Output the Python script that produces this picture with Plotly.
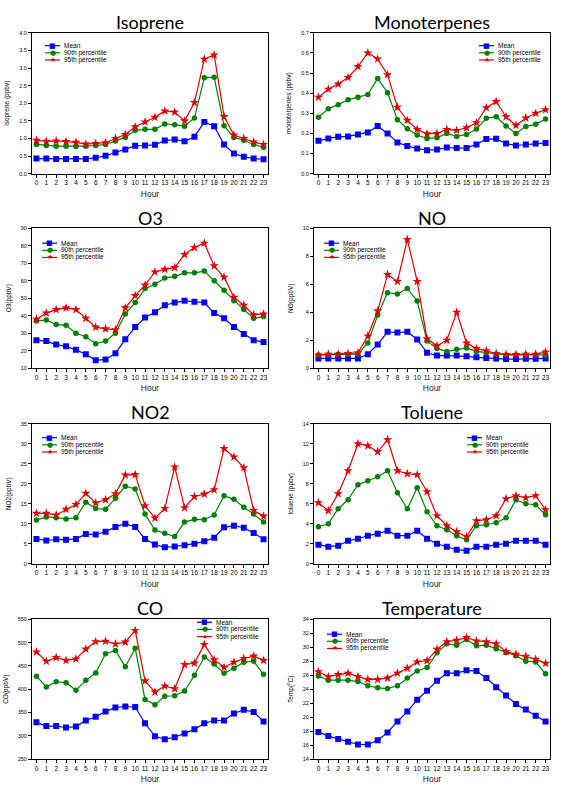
import plotly.graph_objects as go

hours = list(range(24))
hour_labels = [str(h) for h in hours]

titles = ["Isoprene", "Monoterpenes", "O3", "NO", "NO2", "Toluene", "CO", "Temperature"]
ytitles = ["isoprene (ppbv)", "monoterpenes (ppbv)", "O3(ppbV)", "NO(ppbV)",
           "NO2(ppbV)", "toluene (ppbv)", "CO(ppbV)", "Temp(<sup>o</sup>C)"]

isoprene_mean = [0.43, 0.43, 0.42, 0.42, 0.42, 0.42, 0.45, 0.51, 0.60, 0.69, 0.79, 0.80, 0.82, 0.94, 0.97, 0.92, 1.05, 1.47, 1.35, 0.83, 0.57, 0.48, 0.43, 0.41]
isoprene_p90 = [0.83, 0.80, 0.78, 0.78, 0.77, 0.78, 0.80, 0.83, 0.93, 1.03, 1.23, 1.26, 1.26, 1.41, 1.39, 1.35, 1.58, 2.72, 2.74, 1.36, 1.03, 0.95, 0.83, 0.75]
isoprene_p95 = [0.95, 0.92, 0.93, 0.91, 0.89, 0.84, 0.86, 0.88, 1.00, 1.11, 1.33, 1.47, 1.60, 1.78, 1.75, 1.50, 2.02, 3.25, 3.37, 1.62, 1.10, 1.00, 0.90, 0.83]

mono_mean = [0.163, 0.175, 0.183, 0.185, 0.195, 0.205, 0.237, 0.200, 0.155, 0.138, 0.125, 0.117, 0.120, 0.130, 0.127, 0.128, 0.145, 0.172, 0.173, 0.150, 0.140, 0.145, 0.150, 0.153]
mono_p90 = [0.280, 0.322, 0.343, 0.367, 0.380, 0.393, 0.473, 0.402, 0.268, 0.223, 0.192, 0.175, 0.178, 0.200, 0.185, 0.195, 0.222, 0.275, 0.283, 0.237, 0.200, 0.235, 0.245, 0.272]
mono_p95 = [0.380, 0.420, 0.445, 0.478, 0.532, 0.600, 0.570, 0.492, 0.330, 0.265, 0.220, 0.198, 0.200, 0.220, 0.215, 0.228, 0.253, 0.328, 0.358, 0.283, 0.240, 0.277, 0.300, 0.318]

o3_mean = [26, 25.5, 23.5, 22.5, 20.5, 18, 14.5, 15, 18.5, 26.5, 33.5, 39, 42, 46, 47.5, 48.5, 48, 47.5, 41.5, 38.5, 33.5, 29.5, 26, 25]
o3_p90 = [37, 37.5, 35, 34.5, 30, 28, 24, 25.5, 30, 41, 47.5, 55.5, 58, 61.5, 62.5, 64.5, 64.5, 65.5, 60, 54.5, 48.5, 43.5, 38.5, 39.5]
o3_p95 = [38, 41.5, 43.5, 44.5, 43.5, 38.5, 33.5, 32.5, 32, 44.5, 51.5, 57.5, 65, 66.5, 67.5, 75, 79, 81.5, 68.5, 62, 50.5, 46, 40.5, 41]

no_mean = [0.70, 0.70, 0.70, 0.70, 0.70, 1.00, 1.70, 2.60, 2.55, 2.60, 2.05, 1.10, 0.90, 0.90, 0.90, 0.85, 0.78, 0.72, 0.70, 0.65, 0.65, 0.68, 0.68, 0.70]
no_p90 = [0.95, 0.95, 1.00, 1.00, 1.00, 1.80, 3.80, 5.40, 5.30, 5.70, 4.80, 1.95, 1.40, 1.20, 1.35, 1.45, 1.20, 1.10, 1.00, 0.95, 0.95, 0.95, 0.95, 0.95]
no_p95 = [0.95, 1.00, 1.00, 1.05, 1.10, 2.30, 4.10, 6.70, 6.20, 9.20, 6.20, 2.10, 1.60, 2.00, 4.00, 1.80, 1.40, 1.25, 1.05, 0.98, 0.98, 1.00, 1.00, 1.15]

no2_mean = [6.2, 5.8, 6.1, 6.0, 6.2, 7.4, 7.3, 8.0, 9.2, 10.0, 9.2, 6.2, 4.8, 4.1, 4.3, 4.6, 5.0, 5.6, 6.5, 9.1, 9.5, 9.0, 7.7, 6.1]
no2_p90 = [10.9, 11.7, 11.5, 11.2, 11.5, 15.4, 13.8, 13.6, 16.4, 19.4, 18.7, 12.4, 8.4, 7.6, 6.8, 10.4, 11.1, 11.0, 12.2, 17.0, 16.1, 14.1, 12.4, 10.4]
no2_p95 = [12.6, 12.6, 12.2, 13.6, 14.8, 17.6, 15.2, 16.0, 17.5, 22.2, 22.3, 14.5, 11.4, 13.8, 24.2, 14.0, 16.8, 17.4, 18.5, 28.8, 26.7, 24.0, 13.3, 11.9]

tol_mean = [1.9, 1.7, 1.8, 2.3, 2.5, 2.8, 3.0, 3.3, 2.8, 2.8, 3.3, 2.5, 2.0, 1.7, 1.4, 1.3, 1.7, 1.7, 1.9, 2.0, 2.3, 2.3, 2.3, 1.9]
tol_p90 = [3.7, 4.0, 5.5, 6.4, 7.9, 8.3, 8.7, 9.3, 7.1, 5.5, 7.6, 5.2, 3.8, 3.4, 2.8, 2.4, 3.8, 3.9, 4.1, 4.6, 6.4, 6.0, 5.9, 4.9]
tol_p95 = [6.1, 5.3, 7.0, 9.3, 12.0, 11.8, 11.2, 12.4, 9.3, 9.0, 8.9, 7.2, 4.8, 3.8, 3.2, 2.7, 4.3, 4.4, 4.8, 6.5, 6.8, 6.6, 6.8, 5.4]

co_mean = [329, 321, 321, 318, 320, 333, 341, 352, 361, 363, 362, 327, 299, 293, 297, 305, 314, 327, 333, 333, 348, 356, 351, 331]
co_p90 = [428, 405, 416, 414, 398, 419, 435, 476, 483, 448, 488, 378, 367, 385, 386, 396, 430, 469, 454, 434, 445, 458, 460, 432]
co_p95 = [480, 460, 468, 462, 465, 486, 502, 503, 497, 501, 526, 418, 394, 407, 401, 453, 456, 496, 463, 447, 458, 466, 471, 462]

temp_mean = [17.9, 17.3, 16.9, 16.5, 16.1, 16.1, 16.7, 17.8, 19.4, 20.8, 22.5, 23.8, 25.2, 26.3, 26.3, 26.7, 26.6, 25.6, 24.3, 23.1, 21.9, 21.1, 20.2, 19.4]
temp_p90 = [25.9, 25.3, 25.3, 25.3, 25.1, 24.5, 24.2, 24.1, 24.5, 25.6, 26.6, 27.1, 29.2, 30.5, 30.3, 31.1, 30.2, 30.3, 29.8, 29.2, 28.8, 28.0, 27.9, 26.2]
temp_p95 = [26.5, 25.8, 26.1, 26.3, 25.8, 25.4, 25.4, 25.6, 26.3, 27.0, 27.9, 28.1, 29.7, 30.8, 31.0, 31.4, 30.9, 30.8, 30.5, 29.4, 29.0, 28.7, 28.3, 27.7]

series = [
    (isoprene_mean, isoprene_p90, isoprene_p95),
    (mono_mean, mono_p90, mono_p95),
    (o3_mean, o3_p90, o3_p95),
    (no_mean, no_p90, no_p95),
    (no2_mean, no2_p90, no2_p95),
    (tol_mean, tol_p90, tol_p95),
    (co_mean, co_p90, co_p95),
    (temp_mean, temp_p90, temp_p95),
]

y_ranges = [(0, 4.0, 0.5), (0, 0.7, 0.1), (10, 90, 10), (0, 10, 2),
            (0, 35, 5), (0, 14, 2), (250, 550, 50), (14, 34, 2)]
y_fmt = [".1f", ".1f", "d", "d", "d", "d", "d", "d"]

names = ["Mean", "90th percentile", "95th percentile"]
colors = ["#0000FF", "#008000", "#E00000"]
symbols = ["square", "circle", "star"]
glyphs = ["\u25A0", "\u25CF", "\u2605"]
glyph_sizes = [7, 7, 7]
msizes = [6, 5.5, 7]

W, H = 567, 788
cols_px = [(32, 268), (314, 550)]
rows_px = [(30, 172), (227, 368), (424, 565), (621, 762)]
title_y = [19, 217, 412, 610]
legend_px = [(45, 43), (479, 43), (42, 242), (324, 242),
             (42, 438), (467, 438), (197, 624), (327, 636)]
legend_row_gap = 7.2
legend_line_len = 15


def fx(p):
    return p / W


def fy(p):
    return 1 - p / H


fig = go.Figure()
annotations = []
shapes = []
layout = {}
for i in range(8):
    r, c = divmod(i, 2)
    x0, x1 = cols_px[c]
    yt, yb = rows_px[r]
    ax = "" if i == 0 else str(i + 1)
    xa, ya = "x" + ax, "y" + ax
    for k in range(3):
        fig.add_trace(go.Scatter(
            x=hours, y=series[i][k], name=names[k], mode="lines+markers",
            line=dict(color=colors[k], width=1.2),
            marker=dict(symbol=symbols[k], size=msizes[k], color=colors[k]),
            xaxis=xa, yaxis=ya, showlegend=False))
    lo, hi, dt = y_ranges[i]
    layout["xaxis" + ax] = dict(
        domain=[fx(x0), fx(x1)], anchor=ya, range=[-0.45, 23.45],
        tickmode="array", tickvals=hours, ticktext=hour_labels,
        ticks="outside", ticklen=3, tickcolor="black", showline=True, linecolor="black",
        linewidth=1, mirror=True, showgrid=False, zeroline=False,
        tickfont=dict(size=6.5, family="Liberation Sans", color="black"),
        title=dict(text="Hour", font=dict(size=8.5, family="Liberation Sans", color="#222"), standoff=5))
    layout["yaxis" + ax] = dict(
        domain=[fy(yb), fy(yt)], anchor=xa, range=[lo, hi], dtick=dt, tick0=lo,
        tickformat=y_fmt[i],
        ticks="outside", ticklen=3, tickcolor="black", showline=True, linecolor="black",
        linewidth=1, mirror=True, showgrid=False, zeroline=False,
        tickfont=dict(size=5.5, family="Liberation Sans", color="black"),
        title=dict(text=ytitles[i], font=dict(size=6.5, family="Liberation Sans", color="black"), standoff=8))
    annotations.append(dict(
        text=titles[i], x=fx((x0 + x1) / 2), y=fy(title_y[r]), xref="paper", yref="paper",
        xanchor="center", yanchor="middle", showarrow=False,
        font=dict(size=18, family="Lato", color="black")))
    lx, ly = legend_px[i]
    for k in range(3):
        yy = ly + k * legend_row_gap
        shapes.append(dict(type="line", xref="paper", yref="paper",
                           x0=fx(lx), x1=fx(lx + legend_line_len), y0=fy(yy), y1=fy(yy),
                           line=dict(color=colors[k], width=1.2)))
        annotations.append(dict(
            text=glyphs[k], x=fx(lx + legend_line_len / 2), y=fy(yy), xref="paper", yref="paper",
            xanchor="center", yanchor="middle", showarrow=False,
            font=dict(size=glyph_sizes[k], family="DejaVu Sans", color=colors[k])))
        annotations.append(dict(
            text=names[k], x=fx(lx + legend_line_len + 2), y=fy(yy), xref="paper", yref="paper",
            xanchor="left", yanchor="middle", showarrow=False,
            font=dict(size=6.5, family="Liberation Sans", color="black")))

fig.update_layout(**layout)
fig.update_layout(
    width=W, height=H, margin=dict(l=0, r=0, t=0, b=0),
    paper_bgcolor="white", plot_bgcolor="white",
    annotations=annotations, shapes=shapes, showlegend=False)

fig.write_html("out.html", config={"displayModeBar": False},
               post_script="document.body.style.margin='0px';document.body.style.overflow='hidden';")
